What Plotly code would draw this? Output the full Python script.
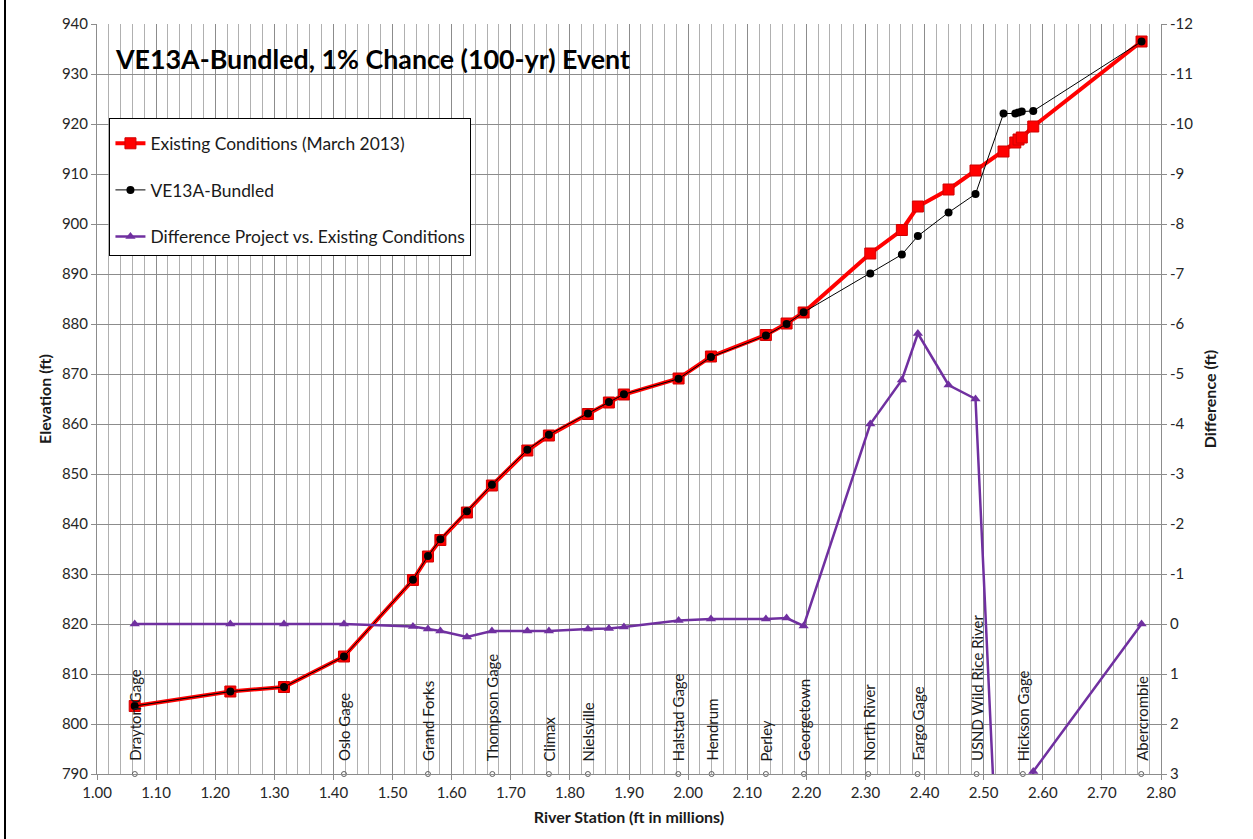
import plotly.graph_objects as go

# ---------------- data ----------------
station = [1.0638, 1.2256, 1.3163, 1.4178, 1.5345, 1.5599, 1.5809, 1.6258, 1.6681, 1.7280,
           1.7645, 1.8305, 1.8660, 1.8914, 1.9839, 2.0386, 2.1316, 2.1666, 2.1954, 2.3082,
           2.3616, 2.3887, 2.4406, 2.4862, 2.5336, 2.5535, 2.5590, 2.5645, 2.5839, 2.7671]
existing = [803.6, 806.5, 807.4, 813.5, 828.8, 833.5, 836.8, 842.3, 847.7, 854.7,
            857.7, 862.0, 864.3, 865.9, 869.1, 873.5, 877.8, 880.1, 882.3, 894.1,
            898.8, 903.5, 906.9, 910.7, 914.5, 916.3, 916.9, 917.3, 919.5, 936.5]
ve13a = [803.6, 806.5, 807.4, 813.5, 828.85, 833.6, 836.95, 842.55, 847.85, 854.85,
         857.85, 862.1, 864.4, 865.95, 869.05, 873.4, 877.7, 880.0, 882.35, 890.1,
         893.9, 897.6, 902.3, 906.0, 922.1, 922.1, 922.3, 922.5, 922.6, 936.5]
difference = [0.0, 0.0, 0.0, 0.0, 0.05, 0.1, 0.14, 0.26, 0.14, 0.14,
              0.14, 0.1, 0.09, 0.06, -0.07, -0.1, -0.1, -0.12, 0.04, -4.0,
              -4.88, -5.81, -4.78, -4.5, 7.6, 5.8, 5.4, 5.2, 2.95, 0.0]

loc_names = ["Drayton Gage", "Oslo Gage", "Grand Forks", "Thompson Gage", "Climax",
             "Nielsville", "Halstad Gage", "Hendrum", "Perley", "Georgetown",
             "North River", "Fargo Gage", "USND Wild Rice River", "Hickson Gage", "Abercrombie"]
loc_station = [1.0640, 1.4178, 1.5599, 1.6688, 1.7645, 1.8305, 1.9834, 2.0397, 2.1316, 2.1959,
               2.3048, 2.3882, 2.4880, 2.5663, 2.7666]

diff_tick_values = [-12, -11, -10, -9, -8, -7, -6, -5, -4, -3, -2, -1, 0, 1, 2, 3]
diff_tick_labels = ["-12", "-11", "-10", "-9", "-8", "-7", "-6", "-5", "-4", "-3",
                    "-2", "-1", "0", "1", "2", "3"]

series_names = ["Existing Conditions (March 2013)", "VE13A-Bundled",
                "Difference Project vs. Existing Conditions"]
title_text = "VE13A-Bundled, 1% Chance (100-yr) Event"

Y_RANGE = [790, 940]
Y2_RANGE = [3, -12]
X_RANGE = [1.0, 2.8]

FONT = "Lato, 'Open Sans', sans-serif"

fig = go.Figure()

fig.add_trace(go.Scatter(
    x=station, y=existing, name=series_names[0], mode="lines+markers",
    line=dict(color="#FF0000", width=4),
    marker=dict(symbol="square", size=11, color="#FF0000", line=dict(color="#D00000", width=1)),
    legendgroup="a", yaxis="y"))

fig.add_trace(go.Scatter(
    x=station, y=ve13a, name=series_names[1], mode="lines+markers",
    line=dict(color="#000000", width=1),
    marker=dict(symbol="circle", size=8, color="#000000"),
    legendgroup="b", yaxis="y"))

fig.add_trace(go.Scatter(
    x=station, y=difference, name=series_names[2], mode="lines+markers",
    line=dict(color="#7030A0", width=2.5),
    marker=dict(symbol="triangle-up", size=9, color="#7030A0"),
    legendgroup="c", yaxis="y2"))

fig.add_trace(go.Scatter(
    x=loc_station, y=[Y_RANGE[0]] * len(loc_station), mode="markers",
    marker=dict(symbol="circle-open", size=5, color="#606060", line=dict(width=1)),
    showlegend=False, cliponaxis=False, hoverinfo="skip", yaxis="y"))

annotations = []
for name, xs in zip(loc_names, loc_station):
    annotations.append(dict(
        x=xs, y=Y_RANGE[0], xref="x", yref="y", text=name, textangle=-90,
        showarrow=False, xanchor="center", yanchor="bottom", yshift=11,
        font=dict(family=FONT, size=15, color="#1a1a1a")))

annotations.append(dict(
    x=0.0146, y=0.953, xref="paper", yref="paper", text="<b>" + title_text + "</b>",
    showarrow=False, xanchor="left", yanchor="middle",
    font=dict(family=FONT, size=26.8, color="#000000")))

fig.update_layout(
    width=1253, height=839,
    margin=dict(l=97, r=92, t=24, b=65, pad=0),
    paper_bgcolor="white", plot_bgcolor="white",
    font=dict(family=FONT, size=15, color="#262626"),
    showlegend=True,
    legend=dict(
        x=0.0117, y=0.8747, xanchor="left", yanchor="top",
        bgcolor="white", bordercolor="#000000", borderwidth=1,
        font=dict(family=FONT, size=17.4, color="#1a1a1a"),
        title=dict(text=" ", font=dict(size=5)),
        traceorder="grouped", tracegroupgap=21, itemwidth=30),
    xaxis=dict(
        range=X_RANGE, dtick=0.1, tick0=1.0, tickformat=".2f",
        showgrid=True, gridcolor="#8c8c8c", gridwidth=1,
        minor=dict(dtick=0.02, showgrid=True, gridcolor="#b0b0b0", gridwidth=1),
        showline=True, linecolor="#8c8c8c", linewidth=1,
        ticks="outside", ticklen=5, tickcolor="#8c8c8c",
        zeroline=False, tickfont=dict(size=15),
        title=dict(text="<b>River Station (ft in millions)</b>", font=dict(size=16, color="#1a1a1a"), standoff=11)),
    yaxis=dict(
        range=Y_RANGE, dtick=10, tick0=790,
        showgrid=True, gridcolor="#8c8c8c", gridwidth=1,
        showline=True, linecolor="#8c8c8c", linewidth=1,
        ticks="outside", ticklen=5, tickcolor="#8c8c8c",
        zeroline=False, tickfont=dict(size=15),
        title=dict(text="<b>Elevation (ft)</b>", font=dict(size=16, color="#1a1a1a"), standoff=6)),
    yaxis2=dict(
        range=Y2_RANGE, overlaying="y", side="right",
        tickmode="array", tickvals=diff_tick_values, ticktext=diff_tick_labels,
        showgrid=False, showline=True, linecolor="#8c8c8c", linewidth=1,
        ticks="outside", ticklen=5, tickcolor="#8c8c8c",
        zeroline=False, tickfont=dict(size=15),
        title=dict(text="<b>Difference (ft)</b>", font=dict(size=16, color="#1a1a1a"), standoff=12)),
    annotations=annotations,
    shapes=[dict(type="line", xref="paper", yref="paper",
                 x0=(5 - 97) / 1064, x1=(5 - 97) / 1064, y0=-0.2, y1=1.2,
                 line=dict(color="#000000", width=2))],
)

fig.write_html("out.html", config={"displayModeBar": False},
               post_script="document.body.style.margin='0px';")
